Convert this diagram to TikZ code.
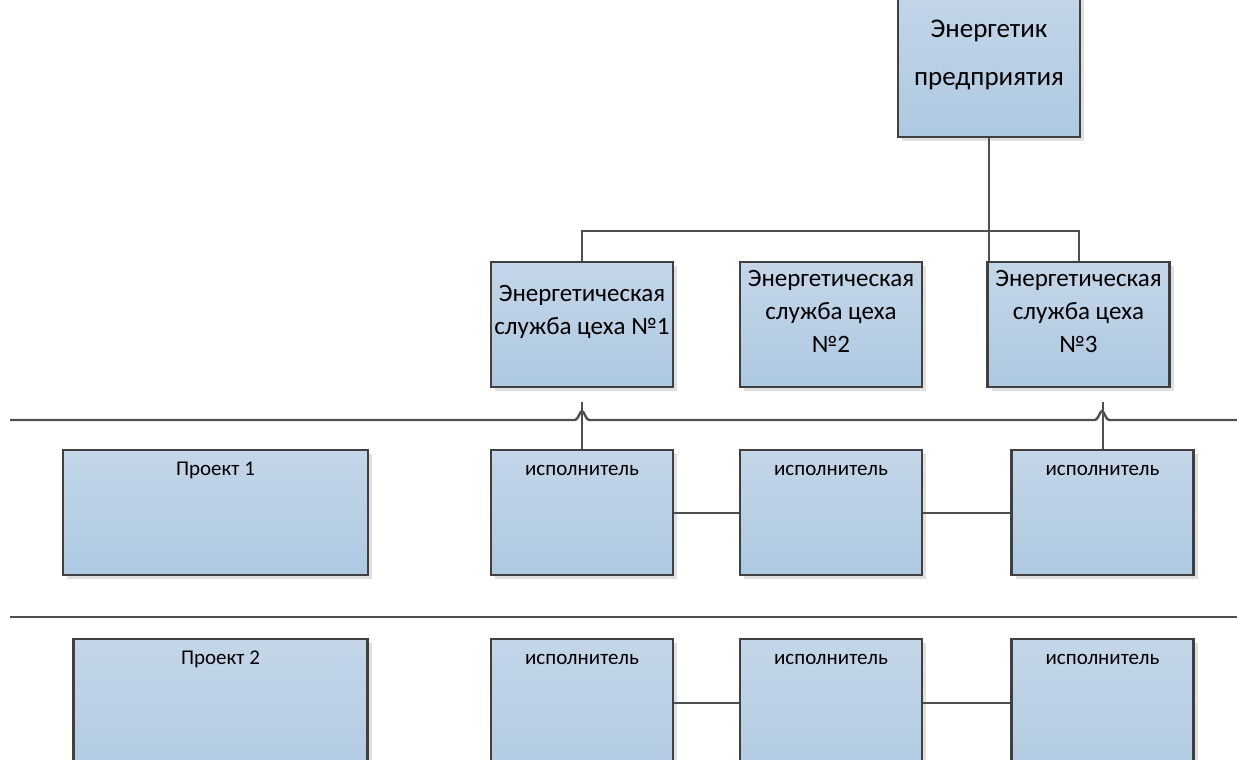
\documentclass[tikz,border=0pt]{standalone}
\usepackage{fontspec}
\setmainfont{Carlito}
\usetikzlibrary{arrows.meta,positioning,shadows}
\definecolor{boxtop}{RGB}{196,214,232}
\definecolor{boxbot}{RGB}{173,201,225}
\definecolor{boxedge}{RGB}{64,64,64}
\definecolor{wire}{RGB}{80,80,80}
\tikzset{
  unit/.style={draw=boxedge,line width=1.2pt,top color=boxtop,bottom color=boxbot,
    drop shadow={shadow xshift=2pt,shadow yshift=-2pt,fill=black!12,opacity=1},inner sep=0pt},
  head/.style={label={[anchor=center,align=center,font=\fontsize{13.5}{24}\selectfont,yshift=-33pt]north:#1}},
  sub/.style={label={[anchor=center,align=center,font=\fontsize{12.5}{16.5}\selectfont,yshift=-25.5pt]north:#1}},
  row/.style={label={[anchor=center,align=center,font=\fontsize{10.5}{13}\selectfont,yshift=-11pt]north:#1}},
  link/.style={draw=wire,line width=1pt},
  rule/.style={draw=wire,line width=1.2pt}
}
\begin{document}
\begin{tikzpicture}[x=0.5pt,y=-0.5pt]
  \useasboundingbox (0,0) rectangle (1237,760);
  \clip (0,0) rectangle (1237,760);
  % head of the enterprise
  \node[unit,minimum width=91pt,minimum height=73.5pt,head={Энергетик\\предприятия}] (chief) at (989,63.5) {};
  % shop services
  \node[unit,minimum width=91pt,minimum height=62.5pt,sub={Энергетическая\\служба цеха №1}] (shop1) at (582,324.5) {};
  \node[unit,minimum width=91pt,minimum height=62.5pt,sub={Энергетическая\\служба цеха\\№2}] (shop2) at (831,324.5) {};
  \node[unit,minimum width=91pt,minimum height=62.5pt,sub={Энергетическая\\служба цеха\\№3}] (shop3) at (1078.5,324.5) {};
  \draw[link] (chief.south) -- (chief.south |- shop3.north);
  \draw[link] (shop1.north) -- ++(0,-30) -| (shop3.north);
  % separators
  \draw[rule] (10,420) -- (575,420) .. controls (578,420) and (580,411) .. (582,411)
    .. controls (584,411) and (586,420) .. (589,420) -- (1095,420)
    .. controls (1098,420) and (1100,411) .. (1102,411)
    .. controls (1104,411) and (1106,420) .. (1109,420) -- (1237,420);
  \draw[rule] (10,617) -- (1237,617);
  % project 1
  \node[unit,minimum width=152.5pt,minimum height=62.5pt,row={Проект 1}] (proj1) at (215.5,512.5) {};
  \node[unit,minimum width=91pt,minimum height=62.5pt,row={исполнитель}] (ex11) at (582,512.5) {};
  \node[unit,minimum width=91pt,minimum height=62.5pt,row={исполнитель}] (ex12) at (831,512.5) {};
  \node[unit,minimum width=91pt,minimum height=62.5pt,row={исполнитель}] (ex13) at (1102.5,512.5) {};
  \draw[link] (ex11) -- (ex12);
  \draw[link] (ex12) -- (ex13);
  \draw[link,shorten >=7pt] (ex11.north) -- (ex11.north |- shop1.south);
  \draw[link,shorten >=7pt] (ex13.north) -- (ex13.north |- shop3.south);
  % project 2
  \node[unit,minimum width=147pt,minimum height=80.5pt,row={Проект 2}] (proj2) at (220.5,719.5) {};
  \node[unit,minimum width=91pt,minimum height=80.5pt,row={исполнитель}] (ex21) at (582,719.5) {};
  \node[unit,minimum width=91pt,minimum height=80.5pt,row={исполнитель}] (ex22) at (831,719.5) {};
  \node[unit,minimum width=91pt,minimum height=80.5pt,row={исполнитель}] (ex23) at (1102.5,719.5) {};
  \draw[link] (ex21.east |- 0,703) -- (ex22.west |- 0,703);
  \draw[link] (ex22.east |- 0,703) -- (ex23.west |- 0,703);
\end{tikzpicture}
\end{document}
